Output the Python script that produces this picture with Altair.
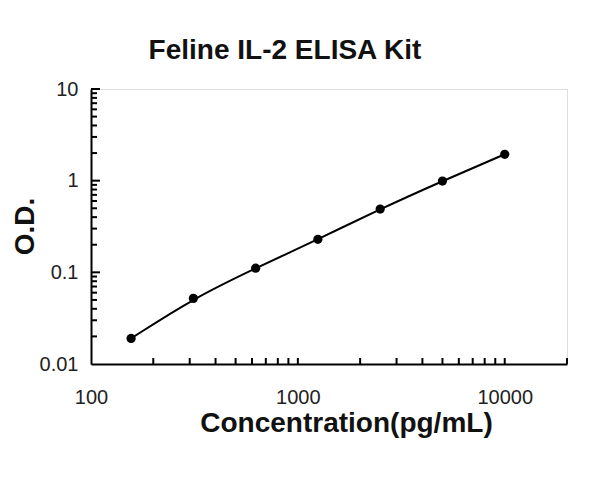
import altair as alt
import pandas as pd

# data
conc = [156.25, 312.5, 625, 1250, 2500, 5000, 10000]
od = [0.019, 0.052, 0.111, 0.229, 0.49, 0.99, 1.94]

x_label_values = [100, 1000, 10000]
y_label_values = [0.01, 0.1, 1, 10]
x_tick_values = [200, 300, 400, 500, 600, 700, 800, 900, 1000,
                 2000, 3000, 4000, 5000, 6000, 7000, 8000, 9000, 10000, 20000]
y_minor_values = [0.02, 0.03, 0.04, 0.05, 0.06, 0.07, 0.08, 0.09,
                  0.2, 0.3, 0.4, 0.5, 0.6, 0.7, 0.8, 0.9,
                  2, 3, 4, 5, 6, 7, 8, 9]
y_major_values = [0.1, 1, 10]

W, H = 476, 275
FONT = "Liberation Sans"

df = pd.DataFrame({"conc": conc, "od": od})
xt = pd.DataFrame({"v": x_tick_values})
ymin = pd.DataFrame({"v": y_minor_values})
ymaj = pd.DataFrame({"v": y_major_values})

xscale = alt.Scale(type="log", domain=[100, 20000])
yscale = alt.Scale(type="log", domain=[0.01, 10])

xaxis = alt.Axis(values=x_label_values, format="d", ticks=False, grid=False,
                 domainColor="black", domainWidth=2,
                 labelFont=FONT, labelFontSize=20, labelColor="#222",
                 labelPadding=23, labelFlush=False,
                 title="Concentration(pg/mL)", titleFont=FONT, titleFontSize=28,
                 titleFontWeight="bold", titleColor="#111",
                 titleX=255, titleY=67, titleBaseline="alphabetic", titleAlign="center")
yaxis = alt.Axis(values=y_label_values, format="~g", ticks=False, grid=False,
                 domainColor="black", domainWidth=2,
                 labelFont=FONT, labelFontSize=20, labelColor="#222",
                 labelPadding=13, labelFlush=False,
                 title="O.D.", titleFont=FONT, titleFontSize=28,
                 titleFontWeight="bold", titleColor="#111",
                 titleX=-58, titleY=137, titleBaseline="alphabetic", titleAlign="center",
                 titleAngle=270)

line = alt.Chart(df).mark_line(color="black", strokeWidth=2, interpolate="basis").encode(
    x=alt.X("conc:Q", scale=xscale, axis=xaxis),
    y=alt.Y("od:Q", scale=yscale, axis=yaxis),
)
pts = alt.Chart(df).mark_circle(color="black", opacity=1, size=85).encode(
    x=alt.X("conc:Q", scale=xscale),
    y=alt.Y("od:Q", scale=yscale),
)
xticks = alt.Chart(xt).mark_rule(color="black", strokeWidth=2).encode(
    x=alt.X("v:Q", scale=xscale),
    y=alt.value(H), y2=alt.value(H - 6),
)
yticks_minor = alt.Chart(ymin).mark_rule(color="black", strokeWidth=2).encode(
    y=alt.Y("v:Q", scale=yscale),
    x=alt.value(0), x2=alt.value(6),
)
yticks_major = alt.Chart(ymaj).mark_rule(color="black", strokeWidth=2).encode(
    y=alt.Y("v:Q", scale=yscale),
    x=alt.value(0), x2=alt.value(9),
)

chart = alt.layer(line, xticks, yticks_minor, yticks_major, pts).properties(
    width=W, height=H,
    autosize=alt.AutoSizeParams(type="none"),
    padding={"left": 83, "top": 81, "right": 25, "bottom": 114},
    title=alt.TitleParams("Feline IL-2 ELISA Kit", font=FONT, fontSize=28,
                          fontWeight="bold", color="#111", anchor="middle",
                          dx=-44, offset=14),
).configure_view(stroke=None).configure(background="white")

chart.save("out.html", embed_options={"renderer": "svg", "actions": False})
